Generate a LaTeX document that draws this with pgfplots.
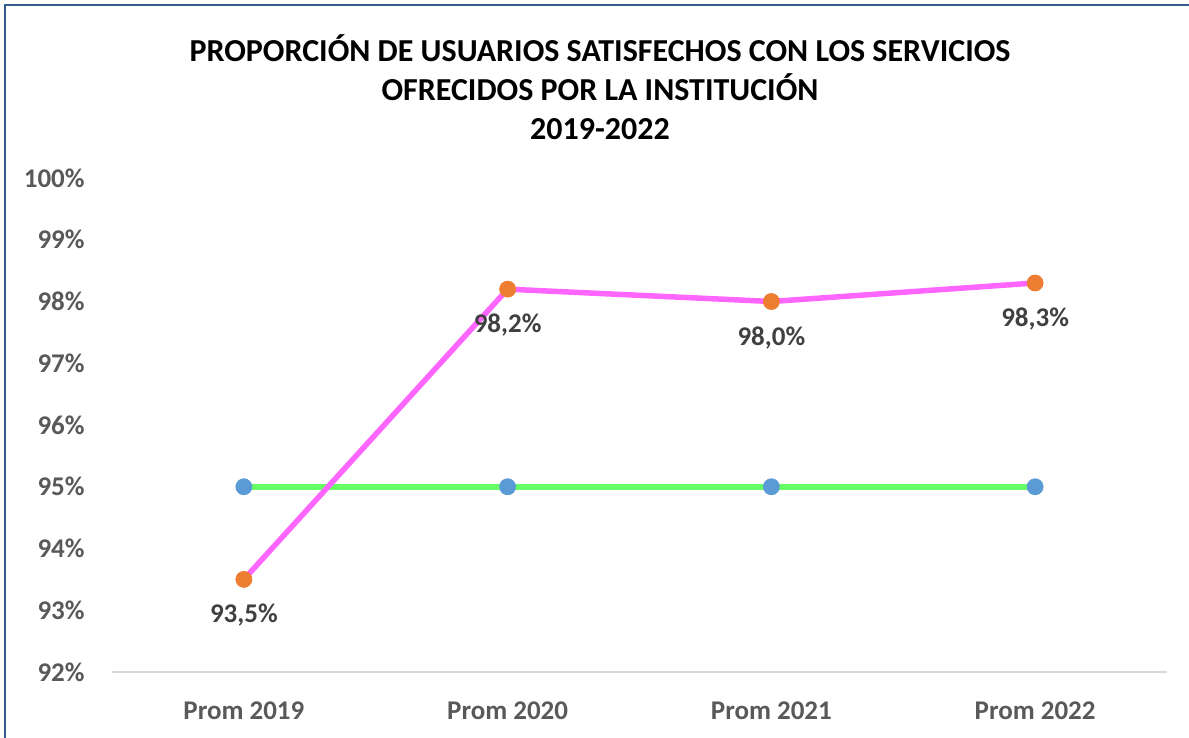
\documentclass[border=0pt]{standalone}
\usepackage{fontspec}
\setmainfont{Carlito}
\usepackage{pgfplots}
\pgfplotsset{compat=1.18}

\definecolor{frameblue}{RGB}{52,94,140}
\definecolor{ticktext}{RGB}{89,89,89}
\definecolor{labeltext}{RGB}{64,64,64}
\definecolor{axisgray}{RGB}{217,217,217}
\definecolor{metagreen}{RGB}{102,255,102}
\definecolor{realpink}{RGB}{255,102,255}
\definecolor{markblue}{RGB}{91,155,213}
\definecolor{markorange}{RGB}{237,125,49}

\begin{document}
\begin{tikzpicture}
\useasboundingbox (0pt,0pt) rectangle (594.5pt,-369pt);
\draw[frameblue, line width=1pt] (2.5pt,-369pt) -- (2.5pt,-2.5pt) -- (594.5pt,-2.5pt);
\node[font=\bfseries\fontsize{16}{19.5}\selectfont, align=center] at (300pt,-43.5pt)
  {PROPORCIÓN DE USUARIOS SATISFECHOS CON LOS SERVICIOS\\OFRECIDOS POR LA INSTITUCIÓN\\2019-2022};

\begin{axis}[
    at={(56pt,-336pt)}, anchor=south west,
    scale only axis,
    width=527.5pt, height=247pt,
    xmin=-0.5, xmax=3.5,
    ymin=92, ymax=100,
    xtick={0,1,2,3},
    xticklabels={Prom 2019,Prom 2020,Prom 2021,Prom 2022},
    ytick={92,93,94,95,96,97,98,99,100},
    yticklabel={\pgfmathprintnumber[assume math mode=true]{\tick}\%},
    axis x line*=bottom,
    axis y line*=left,
    y axis line style={draw=none},
    x axis line style={draw=axisgray, line width=1pt, -},
    major tick length=0pt,
    tick label style={font=\bfseries\fontsize{13.5}{15}\selectfont, text=ticktext},
    xticklabel style={font=\bfseries\fontsize{13.5}{15}\selectfont, anchor=center, yshift=-19.5pt},
    yticklabel style={anchor=east, inner sep=0pt, xshift=-13.5pt},
    clip=false,
]

\addplot[color=metagreen, line width=2.75pt,
    mark=*, mark size=4pt, mark options={line width=0.4pt, draw=markblue, fill=markblue}]
    coordinates {(0,95)(1,95)(2,95)(3,95)};

\addplot[color=realpink, line width=2.75pt,
    mark=*, mark size=4pt, mark options={line width=0.4pt, draw=markorange, fill=markorange},
    nodes near coords={\pgfmathprintnumber[fixed,fixed zerofill,precision=1,use comma,assume math mode=true]{\pgfplotspointmeta}\%},
    every node near coord/.append style={anchor=center, yshift=-18pt,
        font=\bfseries\fontsize{13.5}{15}\selectfont, text=labeltext}]
    coordinates {(0,93.5)(1,98.2)(2,98.0)(3,98.3)};

\end{axis}
\end{tikzpicture}
\end{document}
